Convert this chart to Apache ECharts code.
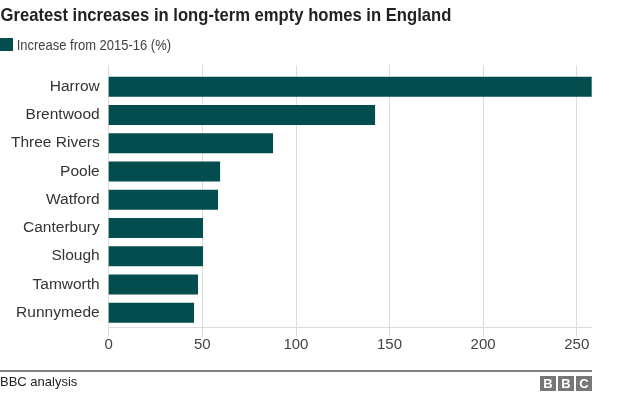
<!DOCTYPE html>
<html>
<head>
<meta charset="utf-8">
<script src="https://cdn.jsdelivr.net/npm/echarts@6/dist/echarts.min.js"></script>
<style>
html,body{margin:0;padding:0;background:#fff;}
#chart{width:624px;height:395px;}
</style>
</head>
<body>
<div id="chart"></div>
<script>
const categories = ["Harrow","Brentwood","Three Rivers","Poole","Watford","Canterbury","Slough","Tamworth","Runnymede"];
const values = [258, 142.3, 87.8, 59.5, 58.4, 50.4, 50.4, 47.7, 45.6];
const seriesName = "Increase from 2015-16 (%)";
const titleText = "Greatest increases in long-term empty homes in England";
const sourceText = "BBC analysis";
const xMin = 0, xMax = 258, xStep = 50;

const FONT = "'Liberation Sans', Arial, sans-serif";
const BAR = "#034d4e";
const GRIDC = '#dcdcdc';
const chart = echarts.init(document.getElementById('chart'), null, {renderer:'canvas'});
chart.setOption({
  animation: false,
  backgroundColor: '#fff',
  legend: {show: false, data: [seriesName]},
  grid: [
    {left: 108.7, right: 32.3, top: 65, bottom: 58},
    {left: 108.7, right: 32.3, top: 72.6, bottom: 68.2}
  ],
  xAxis: [
    {gridIndex: 0, type: 'value', min: xMin, max: xMax, interval: xStep,
     axisLabel: {show: false}, axisTick: {show: false}, axisLine: {show: false},
     splitLine: {show: true, lineStyle: {color: [GRIDC, GRIDC, GRIDC, GRIDC, GRIDC, GRIDC, 'rgba(0,0,0,0)'], width: 1}}},
    {gridIndex: 1, type: 'value', min: xMin, max: xMax, interval: xStep,
     axisLine: {show: true, lineStyle: {color: GRIDC}}, axisTick: {show: false},
     splitLine: {show: false},
     axisLabel: {fontFamily: FONT, fontSize: 15, color: '#444', margin: 11, showMaxLabel: false}}
  ],
  yAxis: [
    {gridIndex: 0, type: 'value', show: false, min: 0, max: 1},
    {gridIndex: 1, type: 'category', data: categories, inverse: true,
     axisLine: {show: false}, axisTick: {show: false},
     axisLabel: {fontFamily: FONT, fontSize: 15.5, color: '#333', margin: 9}}
  ],
  series: [{
    name: seriesName, type: 'bar', xAxisIndex: 1, yAxisIndex: 1,
    data: values, barCategoryGap: '29%', itemStyle: {color: BAR}
  }],
  graphic: [
    {type: 'text', x: 0.5, y: 16, scaleX: 0.875,
     style: {x: 0, y: 0, text: titleText, font: "bold 19px " + FONT, fill: '#222', verticalAlign: 'middle'}},
    {type: 'rect', shape: {x: 0, y: 38, width: 13, height: 13}, style: {fill: BAR}},
    {type: 'text', x: 16.7, y: 45.5, scaleX: 0.865,
     style: {x: 0, y: 0, text: seriesName, font: "15px " + FONT, fill: '#404040', verticalAlign: 'middle'}},
    {type: 'line', shape: {x1: 0, y1: 371, x2: 592, y2: 371}, style: {stroke: '#000', lineWidth: 1}},
    {type: 'text', x: 0, y: 382, style: {x: 0, y: 0, text: sourceText, font: "13px " + FONT, fill: '#222', verticalAlign: 'middle'}},
    {type: 'rect', shape: {x: 540, y: 376, width: 16, height: 15}, style: {fill: '#777'}},
    {type: 'rect', shape: {x: 558, y: 376, width: 16, height: 15}, style: {fill: '#777'}},
    {type: 'rect', shape: {x: 576, y: 376, width: 16, height: 15}, style: {fill: '#777'}},
    {type: 'text', style: {x: 548, y: 384, text: 'B', font: "bold 13px " + FONT, fill: '#fff', align: 'center', verticalAlign: 'middle'}},
    {type: 'text', style: {x: 566, y: 384, text: 'B', font: "bold 13px " + FONT, fill: '#fff', align: 'center', verticalAlign: 'middle'}},
    {type: 'text', style: {x: 584, y: 384, text: 'C', font: "bold 13px " + FONT, fill: '#fff', align: 'center', verticalAlign: 'middle'}}
  ]
});
</script>
</body>
</html>
